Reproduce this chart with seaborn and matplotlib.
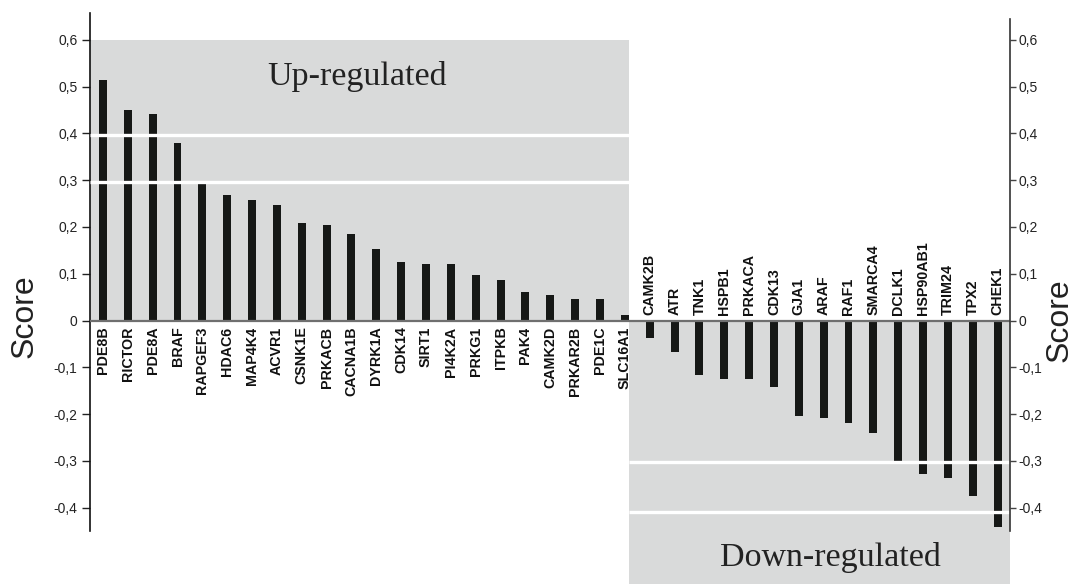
import matplotlib
matplotlib.use("Agg")
import matplotlib.pyplot as plt
from matplotlib.patches import Rectangle
import seaborn as sns

# Gene scores, sorted from most up-regulated to most down-regulated
up_genes = ["PDE8B", "RICTOR", "PDE8A", "BRAF", "RAPGEF3", "HDAC6", "MAP4K4",
            "ACVR1", "CSNK1E", "PRKACB", "CACNA1B", "DYRK1A", "CDK14", "SIRT1",
            "PI4K2A", "PRKG1", "ITPKB", "PAK4", "CAMK2D", "PRKAR2B", "PDE1C",
            "SLC16A1"]
up_scores = [0.513, 0.450, 0.441, 0.380, 0.292, 0.269, 0.258, 0.247, 0.209,
             0.204, 0.184, 0.152, 0.125, 0.121, 0.121, 0.097, 0.086, 0.062,
             0.055, 0.046, 0.046, 0.011]
down_genes = ["CAMK2B", "ATR", "TNK1", "HSPB1", "PRKACA", "CDK13", "GJA1",
              "ARAF", "RAF1", "SMARCA4", "DCLK1", "HSP90AB1", "TRIM24", "TPX2",
              "CHEK1"]
down_scores = [-0.038, -0.067, -0.116, -0.125, -0.125, -0.141, -0.203, -0.209,
               -0.218, -0.241, -0.304, -0.327, -0.336, -0.374, -0.441]

genes = up_genes + down_genes
scores = up_scores + down_scores

ytick_values = [-0.4, -0.3, -0.2, -0.1, 0.0, 0.1, 0.2, 0.3, 0.4, 0.5, 0.6]
up_cutoffs = [0.397, 0.297]
down_cutoffs = [-0.302, -0.41]

sns.set_theme(style="ticks")
plt.rcParams["font.family"] = ["Liberation Sans", "DejaVu Sans"]

GREY = "#d9dada"
BAR = "#161816"

fig = plt.figure(figsize=(10.73, 5.84), dpi=100)
ax = fig.add_axes([0.0839, 0.0913, 0.8574, 0.8864])

x_lo, x_hi = -0.52, 36.5
split = len(up_genes) - 0.85
y_lo, y_hi = -0.449, 0.657

# Shaded panels for the two groups
ax.add_patch(Rectangle((x_lo, 0), split - x_lo, 0.6, facecolor=GREY,
                       edgecolor="none", zorder=0))
ax.add_patch(Rectangle((split, -0.6), x_hi - split, 0.6, facecolor=GREY,
                       edgecolor="none", zorder=0, clip_on=False))

sns.barplot(x=genes, y=scores, order=genes, color=BAR, saturation=1,
            width=0.32, linewidth=0, edgecolor="none", ax=ax, zorder=2)

# Cut-off lines
for yv in up_cutoffs:
    ax.plot([x_lo, split], [yv, yv], color="white", lw=2.4, zorder=3,
            solid_capstyle="butt")
for yv in down_cutoffs:
    ax.plot([split, x_hi], [yv, yv], color="white", lw=2.4, zorder=3,
            solid_capstyle="butt")

ax.axhline(0, color="#6f6f6f", lw=1.6, zorder=4)

ax.set_xlim(x_lo, x_hi)
ax.set_ylim(y_lo, y_hi)
ax.set_xticks([])
ax.set_xlabel("")
ax.set_ylabel("")

def fmt(v):
    if abs(v) < 1e-9:
        return "0"
    return f"{v:.1f}".replace(".", ",")

tick_labels = [fmt(v) for v in ytick_values]
ax.set_yticks(ytick_values)
ax.set_yticklabels(tick_labels, fontsize=10, color="#222222")
ax.tick_params(axis="y", direction="out", length=6, width=1, color="#222222", pad=3)

for s in ["top", "right", "bottom"]:
    ax.spines[s].set_visible(False)
ax.spines["left"].set_color("#111111")
ax.spines["left"].set_linewidth(1.2)

ax2 = ax.twinx()
ax2.set_ylim(y_lo, y_hi)
ax2.set_yticks(ytick_values)
ax2.set_yticklabels(tick_labels, fontsize=10, color="#222222")
ax2.tick_params(axis="y", direction="out", length=4, width=1, color="#444444", pad=2)
for s in ["top", "left", "bottom"]:
    ax2.spines[s].set_visible(False)
ax2.spines["right"].set_color("#333333")
ax2.spines["right"].set_linewidth(1.2)
ax2.spines["right"].set_bounds(y_lo, 0.645)

# Gene names next to the zero line
for i, (g, v) in enumerate(zip(genes, scores)):
    if v >= 0:
        ax.text(i, -0.013, g, rotation=90, ha="center", va="top",
                fontsize=10.3, fontweight="bold", color="#111111", zorder=5)
    else:
        ax.text(i, 0.011, g, rotation=90, ha="center", va="bottom",
                fontsize=10.3, fontweight="bold", color="#111111", zorder=5)

ax.text(10.22, 0.521, "Up-regulated", ha="center", va="center",
        family="Liberation Serif", fontsize=24.5, color="#222222")
ax.text(29.26, -0.506, "Down-regulated", ha="center", va="center",
        family="Liberation Serif", fontsize=24.5, color="#222222", clip_on=False)

fig.text(0.023, 0.458, "Score", rotation=90, ha="center", va="center",
         fontsize=23, color="#222222")
fig.text(0.987, 0.452, "Score", rotation=90, ha="center", va="center",
         fontsize=23, color="#222222")

fig.savefig("out.png", dpi=100)
